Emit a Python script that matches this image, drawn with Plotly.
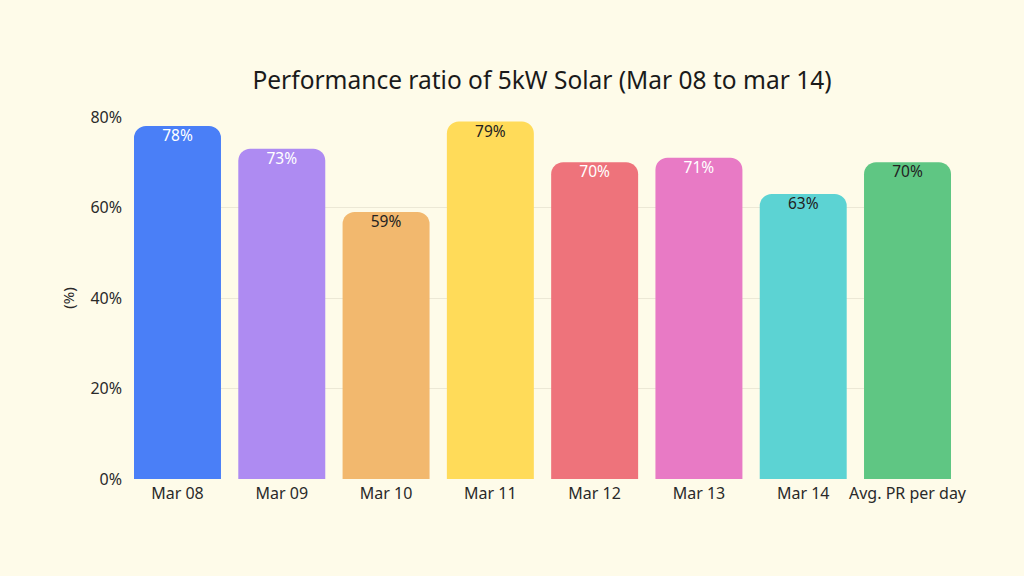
import plotly.graph_objects as go

categories = ["Mar 08", "Mar 09", "Mar 10", "Mar 11", "Mar 12", "Mar 13", "Mar 14", "Avg. PR per day"]
values = [78, 73, 59, 79, 70, 71, 63, 70]
labels = ["78%", "73%", "59%", "79%", "70%", "71%", "63%", "70%"]
bar_colors = ["#4A7FF7", "#AE8BF2", "#F2B86E", "#FFDB59", "#EE737B", "#E87AC5", "#5CD3D3", "#5FC683"]
label_colors = ["#FFFFFF", "#FFFFFF", "#222222", "#222222", "#FFFFFF", "#FFFFFF", "#222222", "#222222"]
y_ticks = [0, 20, 40, 60, 80]
y_tick_text = ["0%", "20%", "40%", "60%", "80%"]

font = "Noto Sans"
bg = "#FEFBE9"
gap = 0.166
xs = list(range(len(categories)))

fig = go.Figure()
fig.add_trace(go.Bar(
    x=xs,
    y=values,
    marker=dict(color=bar_colors, cornerradius=12, line=dict(width=0)),
    hoverinfo="skip",
))
fig.add_trace(go.Scatter(
    x=xs,
    y=values,
    mode="markers+text",
    marker=dict(size=4, opacity=0),
    text=labels,
    textposition="bottom center",
    textfont=dict(family=font, size=15.5, color=label_colors),
    hoverinfo="skip",
    cliponaxis=False,
))

fig.update_layout(
    width=1024, height=576,
    paper_bgcolor=bg, plot_bgcolor=bg,
    margin=dict(l=134, r=73, t=117, b=97),
    bargap=gap,
    showlegend=False,
    title=dict(
        text="Performance ratio of 5kW Solar (Mar 08 to mar 14)",
        x=542 / 1024, xanchor="center", y=1 - 80 / 576, yanchor="middle",
        font=dict(family=font, size=24.5, color="#1a1a1a"),
    ),
    font=dict(family=font, size=16, color="#2a2a2a"),
)
fig.update_xaxes(
    range=[-0.5 + gap / 2, len(categories) - 0.5 - gap / 2],
    tickvals=xs, ticktext=categories,
    showgrid=False, showline=False, zeroline=False, ticks="",
    ticklabelstandoff=3,
    tickfont=dict(size=16, color="#2a2a2a"),
)
fig.update_yaxes(
    range=[0, 80], tickvals=y_ticks, ticktext=y_tick_text,
    showgrid=True, gridcolor="#ECE8D6", gridwidth=1,
    zeroline=False, showline=False, ticks="", ticklabelstandoff=11,
    tickfont=dict(size=16, color="#2a2a2a"),
    title=dict(text="(%)", font=dict(size=15, color="#2a2a2a"), standoff=12),
)

fig.write_html("out.html")
